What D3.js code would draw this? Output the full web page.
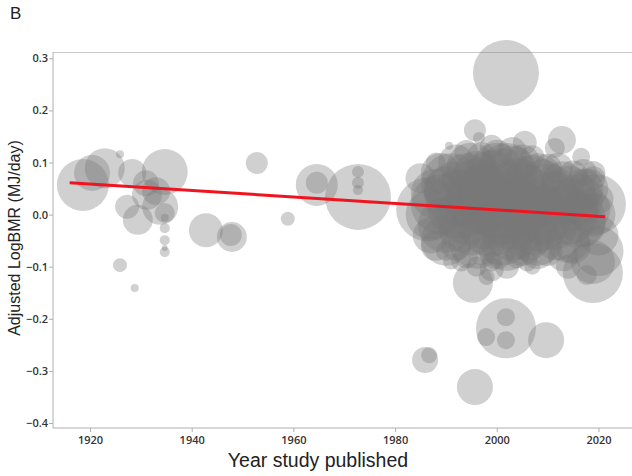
<!DOCTYPE html>
<html><head><meta charset="utf-8">
<script src="https://cdn.jsdelivr.net/npm/d3@7"></script>
<style>body{margin:0;background:#fff}svg{display:block}</style>
</head><body>
<svg id="c" width="632" height="476"></svg>
<script>
// Study bubbles: publication year, adjusted LogBMR, weight (sample-size like)
const years = [
 1918.6,1920.4,1922.9,1925.9,1928.3,1934.7,1931.2,1927.3,1929.4,1933.8,1934.7,1934.7,1934.7,1934.7,1934.7,1934.7,1925.9,1928.8,1931,1933,
 1942.8,1947.9,1947.7,1952.8,1958.9,1964.6,1964.6,1972.7,1972.7,1972.7,1972.7,
 2001.8,1985.9,1986.7,1995.7,2001.8,2001.8,1997.9,2001.8,2009.7,1995.3,2018.9,2017.7,2018.9,
 1995.7,1996.5,1990.6,2005.5,2012.8,2011.4,2016.6,
 1986.5,1988,1987,1989,1990,1991,1992,1992,1993,1994,1995,1995,1996,1997,1997,1998,1999,1999,2000,2000,
 2001,2002,2002,2003,2004,2005,2005,2006,2007,2008,2009,2010,2010,2011,2012,2013,2014,2015,2015,2016,
 2017,2018,2019,2019,2020,2020,2019.5,2020,
 1988,1990,1991,1993,1996,1998,1999,2004,2006,2008,2013,2014,2007,
 1985,1988,1994,1999,2003,2007,2012,2017,2019,
 1989,1992,1994,1996,1997,1999,2001,2003,2003,2005,2007,2008,2010,2012,2014,2016,2017,1990,1987,1994,
 2000,2006,2011,2018,1998,2004,1993,2009,2015,2001,
 1990,1996,2002,2008,2014,2000
];
const logBMR = [
 0.057,0.080,0.089,0.116,0.080,0.082,0.038,0.015,-0.010,0.015,0.003,-0.006,-0.026,-0.049,-0.064,-0.072,-0.097,-0.141,0.060,0.045,
 -0.030,-0.043,-0.039,0.099,-0.008,0.057,0.061,0.034,0.082,0.061,0.047,
 0.272,-0.279,-0.270,-0.331,-0.218,-0.197,-0.235,-0.241,-0.241,-0.131,-0.112,-0.116,-0.091,
 0.162,0.147,0.132,0.138,0.143,0.128,0.111,
 0.010,0.040,-0.040,0.080,-0.020,0.060,0.100,-0.060,0.020,-0.080,0.090,-0.030,0.050,0.110,-0.070,0.000,0.070,-0.090,0.030,0.115,
 -0.040,0.080,-0.100,0.000,0.050,-0.060,0.100,0.020,-0.030,0.070,0.000,-0.070,0.090,0.030,-0.040,0.060,0.000,0.075,-0.060,0.030,
 -0.020,0.050,0.000,0.080,-0.040,0.030,0.020,-0.070,
 -0.060,-0.070,-0.090,-0.090,-0.100,-0.120,-0.105,-0.080,-0.090,-0.070,-0.080,-0.100,-0.100,
 0.070,0.100,0.120,0.130,0.120,0.110,0.090,0.080,0.070,
 0.020,0.040,0.000,0.080,0.030,-0.020,0.060,0.090,-0.030,0.030,0.060,-0.010,0.040,0.010,0.040,-0.010,0.050,0.050,0.000,0.070,
 0.090,-0.040,-0.020,0.010,0.050,0.010,-0.030,0.060,0.020,0.000,
 -0.050,-0.050,-0.060,-0.050,-0.050,-0.070
];
const weights = [
 676,324,400,16,196,529,225,144,225,324,100,16,25,25,9,25,49,16,169,196,
 289,225,121,121,49,441,121,1089,36,36,25,
 1089,169,64,324,900,81,81,81,324,400,900,100,484,
 121,36,16,144,196,100,81,
 1024,625,324,400,784,900,324,225,1225,144,625,625,900,225,196,1225,784,100,1600,225,
 900,900,144,1225,900,400,324,784,625,625,900,225,196,784,625,484,900,225,324,625,
 484,400,484,144,400,225,900,625,
 225,100,64,100,100,64,144,144,100,324,225,144,64,
 225,100,144,144,225,144,225,196,144,
 900,1024,900,484,1225,1024,1225,484,900,1225,784,1024,900,900,784,784,400,484,625,625,
 625,625,625,484,784,900,484,576,676,900,
 625,784,625,625,484,324
];
// Meta-regression fit line endpoints
const fitYears = [1916, 2021.3];
const fitValues = [0.061, -0.004];

const yTicks = [0.3,0.2,0.1,0.0,-0.1,-0.2,-0.3,-0.4];
const xTicks = [1920,1940,1960,1980,2000,2020];

const svg = d3.select("#c");
const L = 53, R = 640, T = 52, B = 428;
const x = d3.scaleLinear().domain([1920, 2020]).range([90, 598.5]);
const y = d3.scaleLinear().domain([0.3, -0.4]).range([58.3, 423]);
const r = d3.scaleSqrt().domain([0, 2500]).range([0, 50]);

const data = years.map((yr,i)=>({yr, v:logBMR[i], w:weights[i]}));

// frame
svg.append("line").attr("x1",L).attr("x2",R).attr("y1",T+0.5).attr("y2",T+0.5).attr("stroke","#c8c8c8");

svg.append("g").selectAll("circle").data(data).join("circle")
  .attr("cx",d=>x(d.yr)).attr("cy",d=>y(d.v)).attr("r",d=>r(d.w))
  .attr("fill","#777").attr("fill-opacity",0.35);

svg.append("line")
  .attr("x1",x(fitYears[0])).attr("y1",y(fitValues[0]))
  .attr("x2",x(fitYears[1])).attr("y2",y(fitValues[1]))
  .attr("stroke","#f0141e").attr("stroke-width",3);

const font = "'Open Sans', sans-serif";
const tfont = "'Liberation Sans', Arial, sans-serif";
const yAxis = svg.append("g").attr("transform",`translate(${L},0)`)
  .call(d3.axisLeft(y).tickValues(yTicks).tickFormat(d3.format(".1f")).tickSizeOuter(0).tickSize(4));
yAxis.select(".domain").attr("d",`M0,${T}V${B}`).attr("stroke","#b0b0b0");
const xAxis = svg.append("g").attr("transform",`translate(0,${B})`)
  .call(d3.axisBottom(x).tickValues(xTicks).tickFormat(d3.format("d")).tickSizeOuter(0).tickSize(4));
xAxis.select(".domain").attr("d",`M${L},0H${R}`).attr("stroke","#b0b0b0");
svg.selectAll(".tick line").attr("stroke","#b0b0b0");
svg.selectAll(".tick text").attr("font-family",font).attr("font-size",11).attr("font-weight",600).attr("fill","#333");
yAxis.selectAll(".tick text").attr("x",-5);
xAxis.selectAll(".tick text").attr("y",8);

svg.append("text").attr("x",318).attr("y",467).attr("text-anchor","middle")
  .attr("font-family",tfont).attr("font-size",19.5).attr("fill","#222").text("Year study published");
svg.append("text").attr("transform","translate(20,238) rotate(-90)").attr("text-anchor","middle")
  .attr("font-family",tfont).attr("font-size",16).attr("fill","#222").text("Adjusted LogBMR (MJ/day)");
svg.append("text").attr("x",10).attr("y",19)
  .attr("font-family",tfont).attr("font-size",17).attr("fill","#222").text("B");
</script>
</body></html>
